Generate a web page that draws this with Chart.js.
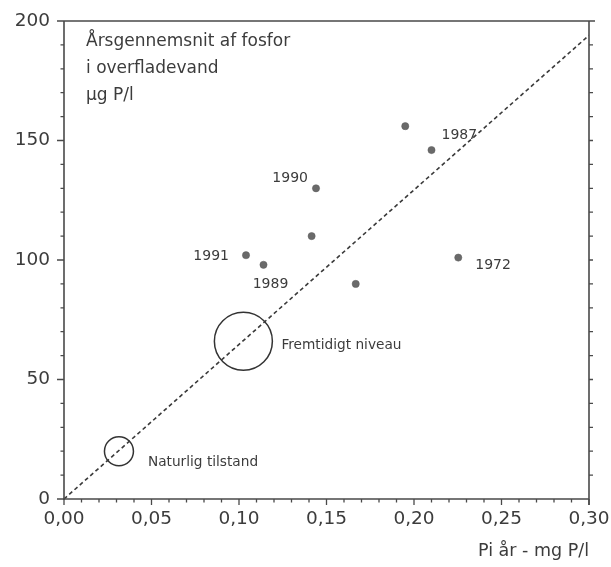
<!DOCTYPE html>
<html>
<head>
<meta charset="utf-8">
<script src="https://cdn.jsdelivr.net/npm/chart.js@4.4.0/dist/chart.umd.min.js"></script>
<style>
  html, body { margin: 0; padding: 0; background: #ffffff; }
  #wrap { width: 611px; height: 567px; position: relative; }
</style>
</head>
<body>
<div id="wrap"><canvas id="c" width="611" height="567"></canvas></div>
<script>
// ---- data ----
const yearLabels = ['', '1987', '1990', '', '1991', '1989', '', '1972'];
const pointX = [0.195, 0.210, 0.144, 0.1415, 0.104, 0.114, 0.1667, 0.2253];
const pointY = [156, 146, 130, 110, 102, 98, 90, 101];
const lineX = [0, 0.30];
const lineY = [0, 194];
const circleNames = ['Fremtidigt niveau', 'Naturlig tilstand'];
const circleX = [0.1025, 0.0314];
const circleY = [66, 20];
const titleLines = ['Årsgennemsnit af fosfor', 'i overfladevand', 'µg P/l'];
const xAxisTitle = 'Pi år - mg P/l';
const xMin = 0, xMax = 0.30, xMajor = 0.05, xMinor = 0.01;
const yMin = 0, yMax = 200, yMajor = 50, yMinor = 10;

// ---- styles (kept apart from data) ----
const INK = '#3c3c3c';
const FONT = 'DejaVu Sans';
const yearOffsets = [null, [10, -15, 'left'], [-8, -10, 'right'], null, [-17, 1, 'right'], [7, 20, 'center'], null, [17, 8, 'left']];
const circleRadii = [29, 14.5];
const circleOffsets = [[38, 4], [29, 11]];

const fmtX = v => v.toFixed(2).replace('.', ',');
const isMajorX = v => Math.round(v * 100) % Math.round(xMajor * 100) === 0;
const isMajorY = v => Math.round(v) % yMajor === 0;

const annotate = {
  id: 'annotate',
  afterDraw(chart) {
    const ctx = chart.ctx;
    const xs = chart.scales.x, ys = chart.scales.y;
    const a = chart.chartArea;
    ctx.save();
    // frame
    ctx.strokeStyle = '#4a4a4a';
    ctx.lineWidth = 1.6;
    ctx.beginPath();
    ctx.moveTo(a.left, a.top); ctx.lineTo(a.right + 6, a.top);
    ctx.moveTo(a.left, a.top); ctx.lineTo(a.left, a.bottom + 1);
    ctx.moveTo(a.left - 1, a.bottom); ctx.lineTo(a.right, a.bottom);
    ctx.moveTo(a.right, a.top); ctx.lineTo(a.right, a.bottom + 6);
    ctx.stroke();
    // ticks
    ctx.lineWidth = 1.3;
    ctx.beginPath();
    xs.ticks.forEach(t => {
      const px = xs.getPixelForValue(t.value);
      ctx.moveTo(px, a.bottom); ctx.lineTo(px, a.bottom + (isMajorX(t.value) ? 6 : 3.5));
    });
    ys.ticks.forEach(t => {
      const py = ys.getPixelForValue(t.value);
      ctx.moveTo(a.left, py); ctx.lineTo(a.left - (isMajorY(t.value) ? 7 : 3.5), py);
      if (t.value > yMin && t.value < yMax) { ctx.moveTo(a.right, py); ctx.lineTo(a.right + 4, py); }
    });
    ctx.stroke();

    // tick labels
    ctx.fillStyle = INK;
    ctx.font = '18.5px "' + FONT + '"';
    ctx.textBaseline = 'middle';
    ctx.textAlign = 'center';
    xs.ticks.forEach(t => {
      if (!isMajorX(t.value)) return;
      ctx.fillText(fmtX(t.value), xs.getPixelForValue(t.value), a.bottom + 20);
    });
    ctx.textAlign = 'right';
    ys.ticks.forEach(t => {
      if (!isMajorY(t.value)) return;
      ctx.fillText(String(Math.round(t.value)), a.left - 14, ys.getPixelForValue(t.value));
    });

    // title block
    ctx.font = '17px "' + FONT + '"';
    ctx.textAlign = 'left';
    ctx.textBaseline = 'alphabetic';
    titleLines.forEach((s, i) => ctx.fillText(s, 86, 46 + i * 27));

    // year labels
    ctx.font = '14px "' + FONT + '"';
    const pts = chart.getDatasetMeta(1).data;
    ctx.textBaseline = 'middle';
    yearLabels.forEach((lab, i) => {
      if (!lab || !yearOffsets[i]) return;
      const p = pts[i];
      const [dx, dy, al] = yearOffsets[i];
      ctx.textAlign = al;
      ctx.fillText(lab, p.x + dx, p.y + dy);
    });
    // circle labels
    ctx.font = '13.7px "' + FONT + '"';
    const cs = chart.getDatasetMeta(2).data;
    ctx.textAlign = 'left';
    circleNames.forEach((lab, i) => {
      const p = cs[i];
      ctx.fillText(lab, p.x + circleOffsets[i][0], p.y + circleOffsets[i][1]);
    });
    ctx.restore();
  }
};

new Chart(document.getElementById('c'), {
  type: 'scatter',
  data: {
    datasets: [
      {
        type: 'line',
        data: lineX.map((x, i) => ({ x, y: lineY[i] })),
        borderColor: '#3a3a3a',
        borderWidth: 1.6,
        borderDash: [4, 3],
        pointRadius: 0,
        fill: false
      },
      {
        data: pointX.map((x, i) => ({ x, y: pointY[i] })),
        backgroundColor: '#6a6a6a',
        borderColor: '#5a5a5a',
        borderWidth: 0.5,
        pointRadius: 3.6
      },
      {
        data: circleX.map((x, i) => ({ x, y: circleY[i] })),
        backgroundColor: 'rgba(0,0,0,0)',
        borderColor: '#333333',
        borderWidth: 1.5,
        pointRadius: circleRadii
      }
    ]
  },
  options: {
    responsive: false,
    animation: false,
    layout: { autoPadding: false, padding: { left: 0, right: 22, top: 21, bottom: 0 } },
    plugins: { legend: { display: false }, tooltip: { enabled: false } },
    scales: {
      x: {
        type: 'linear', min: xMin, max: xMax,
        afterFit: s => { s.height = 68; },
        border: { display: false },
        grid: { display: false },
        ticks: { display: false, stepSize: xMinor, autoSkip: false },
        title: {
          display: true, text: xAxisTitle, align: 'end', color: INK,
          font: { family: FONT, size: 17.5 }, padding: { top: 0, bottom: 5 }
        }
      },
      y: {
        type: 'linear', min: yMin, max: yMax,
        afterFit: s => { s.width = 64; },
        border: { display: false },
        grid: { display: false },
        ticks: { display: false, stepSize: yMinor, autoSkip: false }
      }
    }
  },
  plugins: [annotate]
});
</script>
</body>
</html>
